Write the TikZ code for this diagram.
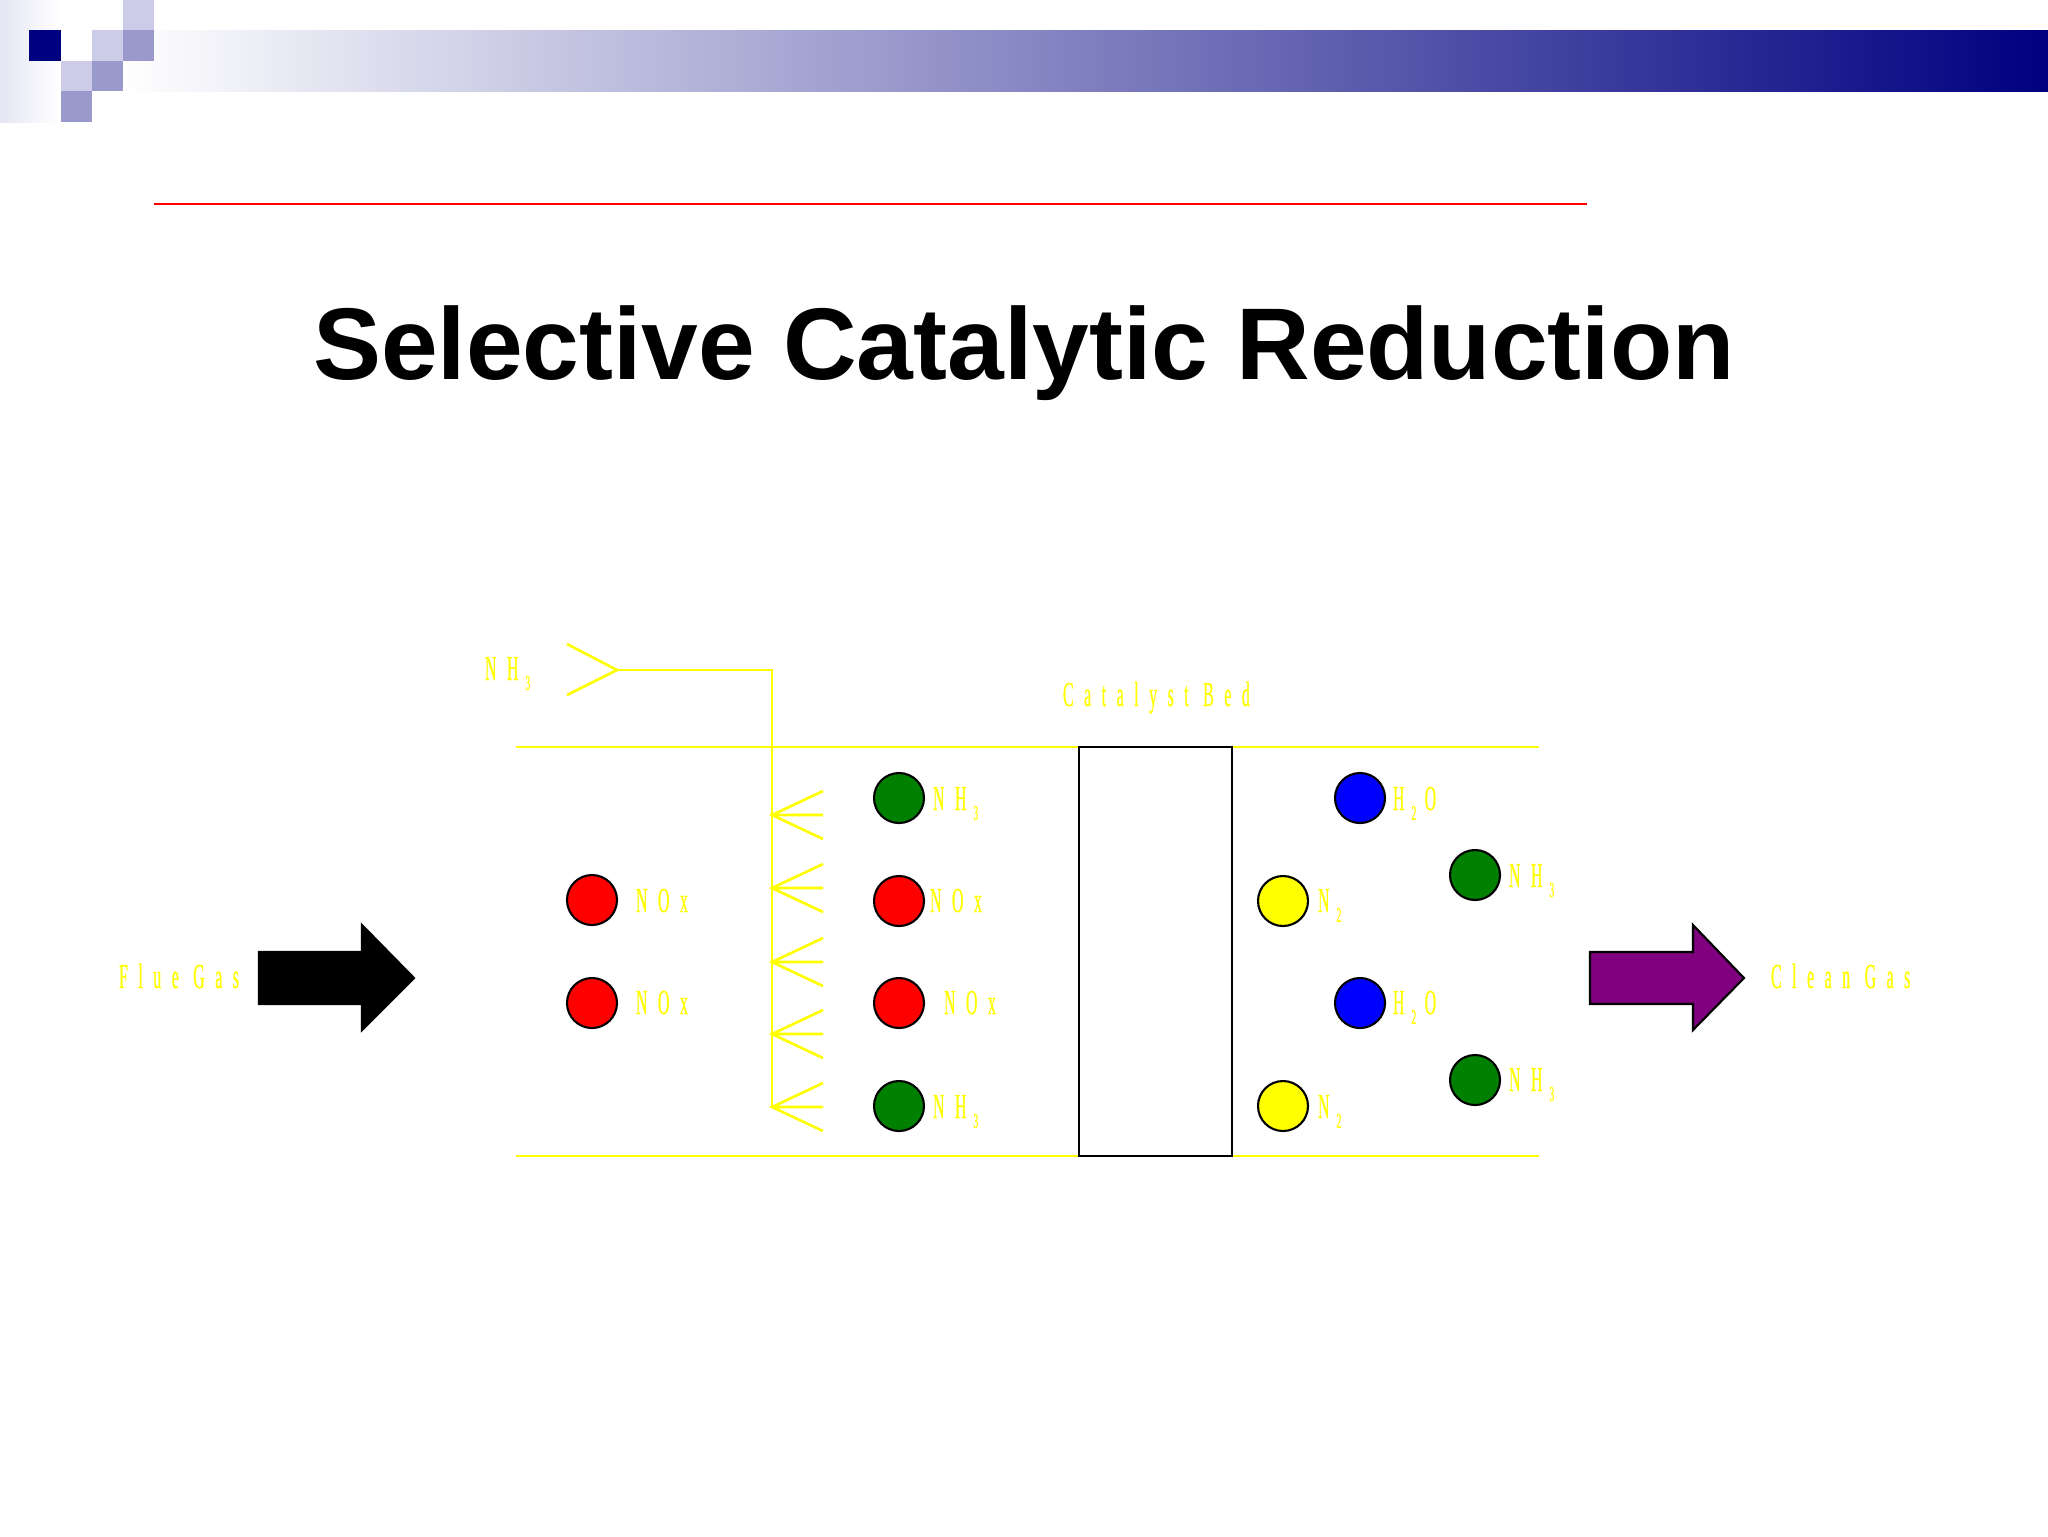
\documentclass[tikz,border=0pt]{standalone}
\usepackage{fontspec}
\setmainfont{Liberation Serif}
\newfontfamily\titlefont{Liberation Sans}
\newfontfamily\thinfont[FakeStretch=0.45,FakeBold=0.6,LetterSpace=30]{Liberation Serif}
\usetikzlibrary{positioning}
\definecolor{sldNavy}{RGB}{0,0,128}
\definecolor{sldLight}{RGB}{204,204,232}
\definecolor{sldMid}{RGB}{153,153,204}
\definecolor{molRed}{RGB}{255,0,0}
\definecolor{molGreen}{RGB}{0,128,0}
\definecolor{molBlue}{RGB}{0,0,255}
\definecolor{molYellow}{RGB}{255,255,0}
\definecolor{gasPurple}{RGB}{128,0,128}
\newcommand{\lowidx}[1]{\kern2pt\raisebox{-2.8pt}{\fontsize{6}{7}\selectfont #1}\kern2.4pt}

\begin{document}
\begin{tikzpicture}[x=0.1mm,y=-0.1mm,line width=0.6pt,
  flow/.style={molYellow,line width=0.75pt},
  mol/.style={circle,draw=black,line width=0.6pt,inner sep=0pt,minimum size=5mm},
  tag/.style={molYellow,font=\thinfont\fontsize{10}{12}\selectfont,inner sep=0pt,anchor=base west}]
\useasboundingbox (0,0) rectangle (2048,1536);
% slide header
\shade[left color=sldLight!50,right color=white] (0,0) rectangle (61,122);
\shade[left color=white,right color=sldNavy] (123,30) rectangle (2048,91);
\fill[sldNavy] (29,30) rectangle (61,61);
\fill[sldLight] (123,0) rectangle (154,30);
\fill[sldLight] (92,30) rectangle (123,61);
\fill[sldMid] (123,30) rectangle (154,61);
\fill[sldLight] (61,61) rectangle (92,91);
\fill[sldMid] (92,61) rectangle (123,91);
\fill[sldMid] (61,91) rectangle (92,122);
\draw[molRed,line width=0.8pt] (154,204) -- (1587,204);
\node[font=\titlefont\bfseries\fontsize{29}{34}\selectfont,anchor=base] (title) at (1024,379) {Selective Catalytic Reduction};
% duct walls
\draw[flow] (516,747) -- (1539,747);
\draw[flow] (516,1156) -- (1539,1156);
% catalyst bed
\draw[fill=white] (1079,747) rectangle (1232,1156);
\node[tag] (bedtag) at (1062,706) {Catalyst Bed};
% ammonia injection grid
\coordinate (inlet) at (617,670);
\coordinate (riser) at (772,670);
\draw[flow] (567,644) -- (inlet) -- (567,695);
\draw[flow] (inlet) -- (riser) -- (772,1107);
\foreach \y in {815,888,962,1034,1107}
  \draw[flow] (823,\y-24) -- (772,\y) -- (823,\y+24) (772,\y) -- (823,\y);
\node[tag] (injtag) at (484,680) {NH\lowidx{3}};
% gas arrows
\draw[fill=black] (259,952) -- (362,952) -- (362,925) -- (414,978) -- (362,1030) -- (362,1004) -- (259,1004) -- cycle;
\node[tag] (fluetag) at (118,988) {Flue Gas};
\draw[fill=gasPurple] (1590,952) -- (1693,952) -- (1693,925) -- (1744,978) -- (1693,1030) -- (1693,1004) -- (1590,1004) -- cycle;
\node[tag] (cleantag) at (1770,988) {Clean Gas};
% flue gas
\node[mol,fill=molRed] (noxA) at (592,900) {};
\node[mol,fill=molRed] (noxB) at (592,1003) {};
\node[tag] (noxAtag) at (635,912) {NOx};
\node[tag] (noxBtag) at (635,1014) {NOx};
% after injection
\node[mol,fill=molGreen] (nhC) at (899,798) {};
\node[mol,fill=molRed] (noxC) at (899,901) {};
\node[mol,fill=molRed] (noxD) at (899,1003) {};
\node[mol,fill=molGreen] (nhD) at (899,1106) {};
\node[tag] (nhCtag) at (932,810) {NH\lowidx{3}};
\node[tag] (noxCtag) at (929,912) {NOx};
\node[tag] (noxDtag) at (943,1014) {NOx};
\node[tag] (nhDtag) at (932,1118) {NH\lowidx{3}};
% after the bed
\node[mol,fill=molBlue] (waterA) at (1360,798) {};
\node[mol,fill=molGreen] (nhE) at (1475,875) {};
\node[mol,fill=molYellow] (ntwoA) at (1283,901) {};
\node[mol,fill=molBlue] (waterB) at (1360,1003) {};
\node[mol,fill=molGreen] (nhF) at (1475,1080) {};
\node[mol,fill=molYellow] (ntwoB) at (1283,1106) {};
\node[tag] (waterAtag) at (1392,810) {H\lowidx{2}O};
\node[tag] (nhEtag) at (1508,887) {NH\lowidx{3}};
\node[tag] (ntwoAtag) at (1317,912) {N\lowidx{2}};
\node[tag] (waterBtag) at (1392,1014) {H\lowidx{2}O};
\node[tag] (nhFtag) at (1508,1091) {NH\lowidx{3}};
\node[tag] (ntwoBtag) at (1317,1118) {N\lowidx{2}};
\end{tikzpicture}
\end{document}
